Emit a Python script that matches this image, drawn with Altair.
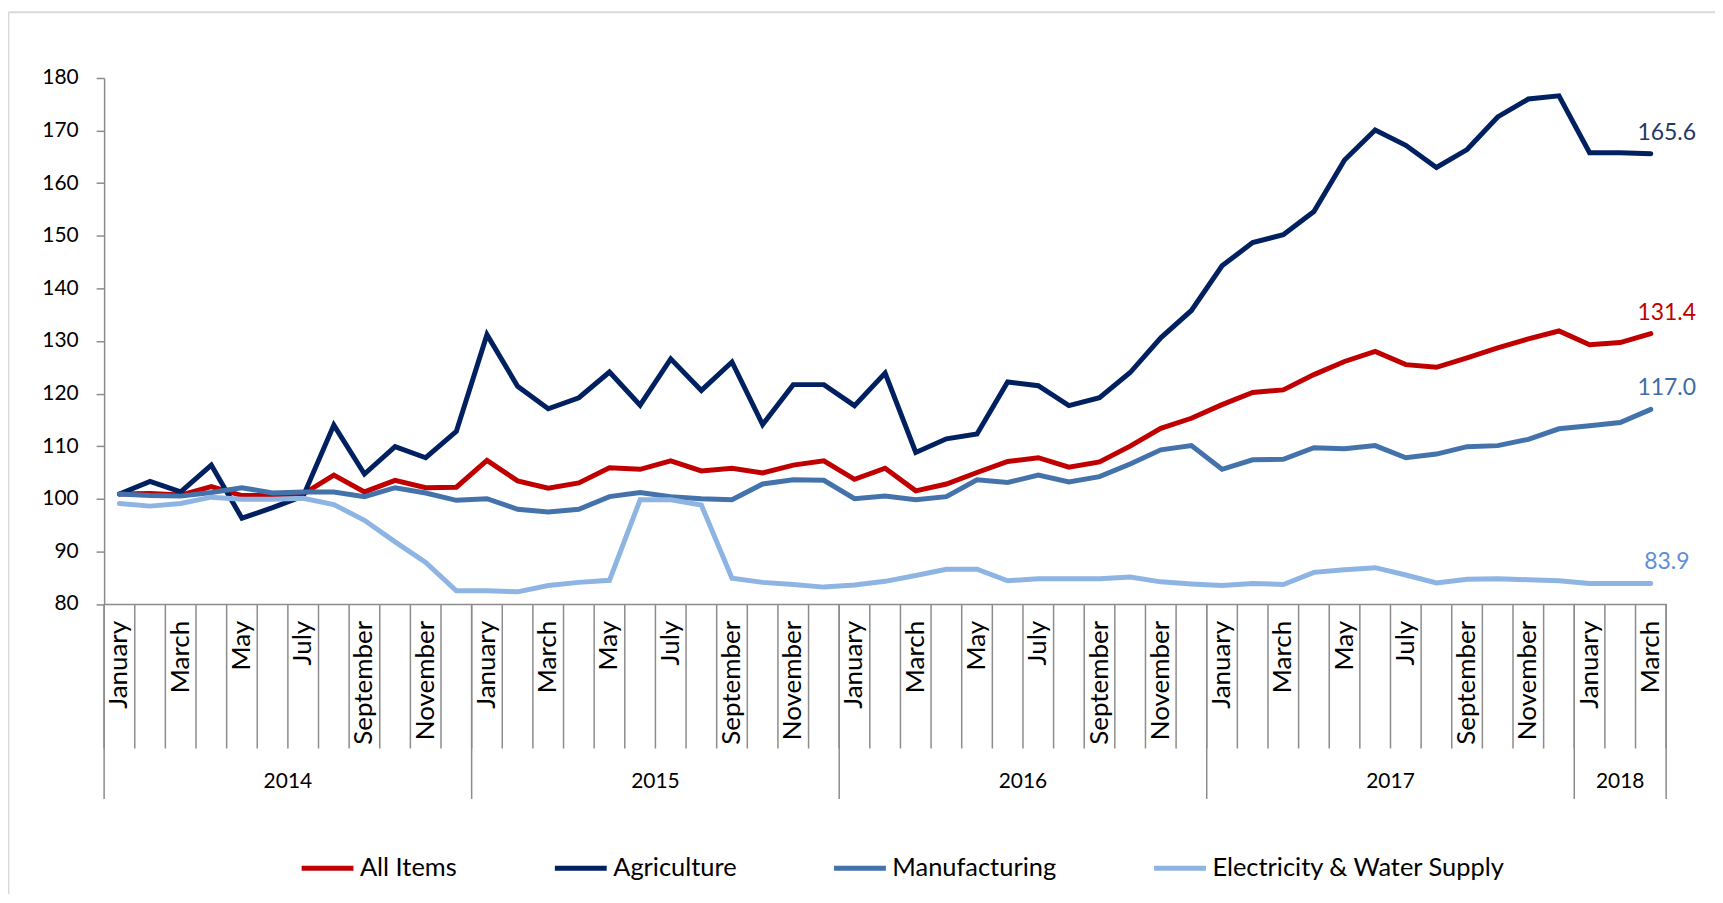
import altair as alt
import pandas as pd

# ---------------- data ----------------
years = [2014, 2015, 2016, 2017, 2018]
months_per_year = [12, 12, 12, 12, 3]
month_names = ["January", "February", "March", "April", "May", "June", "July",
               "August", "September", "October", "November", "December"]

series_names = ["All Items", "Agriculture", "Manufacturing", "Electricity & Water Supply"]

all_items = [100.9, 101.0, 100.7, 102.3, 100.6, 100.6, 100.9, 104.5, 101.3, 103.5, 102.1, 102.2,
             107.3, 103.4, 102.0, 103.0, 105.9, 105.6, 107.2, 105.3, 105.8, 104.9, 106.4, 107.2,
             103.7, 105.8, 101.5, 102.8, 105.0, 107.1, 107.8, 106.0, 107.0, 110.0, 113.4, 115.3,
             117.9, 120.2, 120.7, 123.6, 126.1, 128.0, 125.5, 125.0, 126.8, 128.7, 130.4, 131.9,
             129.3, 129.7, 131.4]
agriculture = [100.9, 103.3, 101.3, 106.4, 96.3, 98.3, 100.5, 114.0, 104.7, 109.9, 107.8, 112.8,
               131.2, 121.4, 117.1, 119.2, 124.1, 117.8, 126.6, 120.6, 126.0, 114.1, 121.7, 121.7,
               117.7, 123.9, 108.8, 111.4, 112.3, 122.2, 121.5, 117.7, 119.2, 124.0, 130.6, 135.8,
               144.3, 148.7, 150.2, 154.6, 164.4, 170.1, 167.2, 163.0, 166.4, 172.6, 176.0, 176.6,
               165.8, 165.8, 165.6]
manufacturing = [100.9, 100.6, 100.5, 101.2, 102.1, 101.1, 101.3, 101.3, 100.4, 102.1, 101.1, 99.7,
                 100.0, 98.0, 97.5, 98.0, 100.4, 101.2, 100.4, 100.0, 99.8, 102.8, 103.6, 103.5,
                 100.0, 100.5, 99.8, 100.4, 103.6, 103.1, 104.5, 103.2, 104.2, 106.6, 109.3, 110.1,
                 105.6, 107.4, 107.5, 109.7, 109.5, 110.1, 107.8, 108.5, 109.9, 110.1, 111.3, 113.3,
                 113.9, 114.5, 117.0]
electricity = [99.1, 98.6, 99.1, 100.3, 99.9, 99.9, 100.1, 98.9, 95.9, 91.8, 87.9, 82.5,
               82.5, 82.3, 83.5, 84.1, 84.5, 99.8, 99.8, 98.8, 84.9, 84.1, 83.7, 83.2,
               83.6, 84.3, 85.4, 86.6, 86.6, 84.4, 84.8, 84.8, 84.8, 85.1, 84.2, 83.8,
               83.5, 83.9, 83.7, 86.0, 86.5, 86.9, 85.5, 84.0, 84.7, 84.8, 84.6, 84.4,
               83.9, 83.9, 83.9]

y_ticks = list(range(80, 181, 10))

# ---------------- styles ----------------
series_colors = ["#C00000", "#002060", "#4472AA", "#8DB4E2"]
label_colors = ["#C00000", "#1F3864", "#3F6BA8", "#5B8FD8"]
GRAY = "#8C8C8C"
FONT = "Lato"
W = 1566.7
H = 527.5

# ---------------- tables ----------------
month_rows = []
idx = 0
for yr, n in zip(years, months_per_year):
    for m in range(n):
        month_rows.append({"idx": idx, "pos": idx + 0.5, "month": month_names[m], "m": m, "year": yr})
        idx += 1
n_months = idx

rows = []
for name, vals in zip(series_names, [all_items, agriculture, manufacturing, electricity]):
    for r, v in zip(month_rows, vals):
        rows.append({"series": name, "pos": r["pos"], "value": v})
df = pd.DataFrame(rows)

month_label_df = pd.DataFrame([r for r in month_rows if r["m"] % 2 == 0])
sep_df = pd.DataFrame({"pos": list(range(n_months + 1))})
bounds = [0]
for n in months_per_year:
    bounds.append(bounds[-1] + n)
year_sep_df = pd.DataFrame({"pos": bounds})
year_df = pd.DataFrame({"year": [str(y) for y in years],
                        "pos": [(bounds[i] + bounds[i + 1]) / 2 for i in range(len(years))]})
end_df = pd.DataFrame({"series": series_names,
                       "pos": [month_rows[-1]["pos"]] * 4,
                       "value": [all_items[-1], agriculture[-1], manufacturing[-1], electricity[-1]]})
end_df["label"] = end_df["value"].map(lambda v: f"{v:.1f}")

x_scale = alt.Scale(domain=[0, n_months], nice=False, zero=False)
y_scale = alt.Scale(domain=[80, 180], nice=False, zero=False)

lines = alt.Chart(df).mark_line(strokeWidth=5, strokeCap="round").encode(
    x=alt.X("pos:Q", scale=x_scale,
            axis=alt.Axis(labels=False, ticks=False, title=None, grid=False,
                          domainColor=GRAY, domainWidth=1.5)),
    y=alt.Y("value:Q", scale=y_scale,
            axis=alt.Axis(values=y_ticks, tickSize=8, tickColor=GRAY, tickWidth=1.5,
                          domainColor=GRAY, domainWidth=1.5, grid=False, title=None,
                          labelFont=FONT, labelFontSize=21, labelColor="#000000",
                          labelPadding=18)),
    color=alt.Color("series:N", sort=series_names,
                    scale=alt.Scale(domain=series_names, range=series_colors),
                    legend=alt.Legend(title=None, orient="none", legendX=195.6, legendY=764,
                                      direction="horizontal", symbolType="stroke",
                                      symbolSize=2704, symbolStrokeWidth=5,
                                      labelFont=FONT, labelFontSize=25.5, labelColor="#000000",
                                      labelOffset=4, columnPadding=87, padding=0,
                                      labelLimit=400)),
)

month_seps = alt.Chart(sep_df).mark_rule(color=GRAY, strokeWidth=1.5).encode(
    x=alt.X("pos:Q", scale=x_scale),
    y=alt.value(H), y2=alt.value(H + 145))

year_seps = alt.Chart(year_sep_df).mark_rule(color=GRAY, strokeWidth=1.5).encode(
    x=alt.X("pos:Q", scale=x_scale),
    y=alt.value(H), y2=alt.value(H + 195.6))

month_labels = alt.Chart(month_label_df).mark_text(
    angle=270, align="right", baseline="middle", font=FONT, fontSize=26, color="#000000"
).encode(x=alt.X("pos:Q", scale=x_scale), y=alt.value(H + 17), text="month:N")

year_labels = alt.Chart(year_df).mark_text(
    align="center", baseline="middle", font=FONT, fontSize=21, color="#000000"
).encode(x=alt.X("pos:Q", scale=x_scale), y=alt.value(H + 178.6), text="year:N")

end_labels = alt.Chart(end_df).mark_text(
    align="center", baseline="middle", font=FONT, fontSize=23, dx=16, dy=-21
).encode(
    x=alt.X("pos:Q", scale=x_scale),
    y=alt.Y("value:Q", scale=y_scale),
    text="label:N",
    fill=alt.Fill("series:N", scale=alt.Scale(domain=series_names, range=label_colors), legend=None),
)

border_top = alt.Chart(alt.Data(values=[{}])).mark_rule(color="#D9D9D9", strokeWidth=2).encode(
    x=alt.value(-96), x2=alt.value(W + 60), y=alt.value(-66))
border_left = alt.Chart(alt.Data(values=[{}])).mark_rule(color="#D9D9D9", strokeWidth=2).encode(
    x=alt.value(-96), y=alt.value(-66), y2=alt.value(H + 300))

chart = alt.layer(
    border_top, border_left, month_seps, year_seps, month_labels, year_labels, lines, end_labels
).properties(
    width=W, height=H,
    autosize=alt.AutoSizeParams(type="none"),
    padding={"left": 96.4, "top": 68.9, "right": 49, "bottom": 290},
).configure_view(stroke=None)

chart.save("out.html", embed_options={"renderer": "svg", "actions": False})
